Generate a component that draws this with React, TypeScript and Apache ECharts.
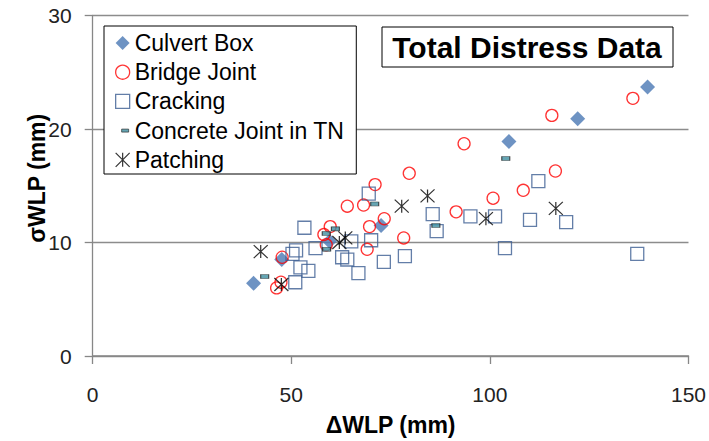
import React, { useEffect, useRef } from "react";
import * as echarts from "echarts";

const seriesNames = ["Culvert Box", "Bridge Joint", "Cracking", "Concrete Joint in TN", "Patching"];

const culvertBox: number[][] = [
  [40.5, 6.4], [47.6, 8.5], [59.6, 10.1], [72.6, 11.5], [104.8, 18.9], [122.1, 20.9], [139.7, 23.7],
];

const bridgeJoint: number[][] = [
  [47.7, 8.7], [46.3, 6.0], [47.4, 6.5], [64.1, 13.2], [68.2, 13.3], [59.8, 11.4], [58.2, 10.7],
  [58.8, 9.8], [69.7, 11.4], [73.4, 12.1], [78.3, 10.4], [69.1, 9.4], [71.1, 15.1], [79.7, 16.1],
  [93.5, 18.7], [115.6, 21.2], [136.0, 22.7], [116.5, 16.3], [108.4, 14.6], [100.8, 13.9], [91.5, 12.7],
];

const cracking: number[][] = [
  [53.3, 11.3], [50.3, 9.0], [51.2, 9.3], [52.3, 7.8], [54.3, 7.5], [51.0, 6.5], [56.1, 9.5],
  [62.8, 8.7], [64.1, 8.5], [65.1, 10.1], [70.1, 10.2], [66.9, 7.3], [73.3, 8.3], [78.6, 8.8],
  [69.5, 14.3], [85.6, 12.5], [86.6, 11.0], [95.1, 12.3], [101.3, 12.3], [110.1, 12.0], [112.2, 15.4],
  [119.2, 11.8], [103.8, 9.5], [137.1, 9.0],
];

const concreteJointTN: number[][] = [
  [43.3, 7.0], [58.8, 10.8], [61.1, 11.2], [58.9, 9.4], [71.0, 13.4], [86.4, 11.5], [104.0, 17.4],
];

const patching: number[][] = [
  [42.3, 9.2], [47.5, 6.3], [62.1, 10.0], [63.6, 10.4], [77.8, 13.2], [84.3, 14.1], [99.0, 12.1], [116.6, 13.0],
];

const xMin = 0, xMax = 150, xStep = 50;
const yMin = 0, yMax = 30, yStep = 10;

const titleText = "Total Distress Data";
const xName = "ΔWLP (mm)";
const yName = "σWLP (mm)";

const FONT = "'Liberation Sans', Arial, sans-serif";
const asterisk = "path://M0,0L14,13M14,0L0,13M7,0L7,13";
const asteriskIcon = "path://M0,0L14,14M14,0L0,14M7,0L7,14";
const dashIcon = "path://M0,0M14,14M6,5.5h7v3h-7z";

export default function App() {
  const ref = useRef<HTMLDivElement>(null);
  useEffect(() => {
    if (!ref.current) return;
    const chart = echarts.init(ref.current, undefined, { renderer: "svg" });
    const axisGray = "#878787";
    chart.setOption({
      animation: false,
      backgroundColor: "#fff",
      grid: { left: 92.7, right: 19.3, top: 15.5, bottom: 83.7, containLabel: false },
      xAxis: {
        type: "value",
        min: xMin,
        max: xMax,
        interval: xStep,
        name: xName,
        nameLocation: "middle",
        nameGap: 57,
        nameTextStyle: { fontFamily: FONT, fontSize: 23, fontWeight: "bold", color: "#000" },
        axisLine: { show: true, lineStyle: { color: axisGray, width: 1.6 } },
        axisTick: { show: true, inside: false, length: 8, lineStyle: { color: axisGray, width: 1.3 } },
        axisLabel: { fontFamily: FONT, fontSize: 21, color: "#222", margin: 28 },
        splitLine: { show: false },
      },
      yAxis: {
        type: "value",
        min: yMin,
        max: yMax,
        interval: yStep,
        axisLine: { show: true, lineStyle: { color: axisGray, width: 1.3 } },
        axisTick: { show: true, inside: false, length: 8, lineStyle: { color: axisGray, width: 1.3 } },
        axisLabel: { fontFamily: FONT, fontSize: 21, color: "#222", margin: 21 },
        splitLine: { show: true, lineStyle: { color: "#8c8c8c", width: 1.3 } },
      },
      legend: {
        orient: "vertical",
        left: 104,
        top: 26,
        padding: [5.5, 12, 2.7, 11],
        itemGap: 6.2,
        itemWidth: 14,
        itemHeight: 14,
        backgroundColor: "#fff",
        borderColor: "#000",
        borderWidth: 1,
        borderRadius: 0,
        selectedMode: false,
        textStyle: { fontFamily: FONT, fontSize: 23, lineHeight: 23, color: "#000" },
        data: [
          { name: seriesNames[0], icon: "diamond" },
          { name: seriesNames[1], icon: "circle", itemStyle: { borderWidth: 1.3 } },
          { name: seriesNames[2], icon: "rect", itemStyle: { borderWidth: 1.3 } },
          { name: seriesNames[3], icon: dashIcon, itemStyle: { borderWidth: 0.8 } },
          { name: seriesNames[4], icon: asteriskIcon, itemStyle: { borderWidth: 1.2 } },
        ],
      },
      graphic: [
        {
          type: "rect",
          shape: { x: 382, y: 27, width: 291, height: 40 },
          style: { fill: "#fff", stroke: "#000", lineWidth: 1 },
          z: 100,
        },
        {
          type: "text",
          x: 527,
          y: 47.5,
          z: 101,
          style: {
            text: titleText,
            font: `bold 30px ${FONT}`,
            fill: "#000",
            textAlign: "center",
            textVerticalAlign: "middle",
          },
        },
        {
          type: "text",
          x: 36.7,
          y: 178.3,
          rotation: Math.PI / 2,
          z: 101,
          style: {
            text: yName,
            font: `bold 23px ${FONT}`,
            fill: "#000",
            textAlign: "center",
            textVerticalAlign: "middle",
          },
        },
      ],
      series: [
        {
          name: seriesNames[0],
          type: "scatter",
          symbol: "diamond",
          symbolSize: 15,
          itemStyle: { color: "#4A78B4" },
          data: culvertBox,
        },
        {
          name: seriesNames[1],
          type: "scatter",
          symbol: "circle",
          symbolSize: 12,
          itemStyle: { color: "rgba(0,0,0,0)", borderColor: "#FF0000", borderWidth: 1.3 },
          data: bridgeJoint,
        },
        {
          name: seriesNames[2],
          type: "scatter",
          symbol: "rect",
          symbolSize: 13,
          itemStyle: { color: "rgba(0,0,0,0)", borderColor: "#3C5E92", borderWidth: 1.3 },
          data: cracking,
        },
        {
          name: seriesNames[3],
          type: "scatter",
          symbol: "rect",
          symbolSize: [8, 4],
          itemStyle: { color: "#3F8FA0", borderColor: "#222", borderWidth: 0.8 },
          data: concreteJointTN,
        },
        {
          name: seriesNames[4],
          type: "scatter",
          symbol: asterisk,
          symbolSize: [14, 13],
          itemStyle: { color: "rgba(0,0,0,0)", borderColor: "#000", borderWidth: 1.2 },
          data: patching,
        },
      ],
    });
    return () => chart.dispose();
  }, []);
  return (
    <div
      ref={ref}
      style={{ position: "fixed", left: 0, top: 0, width: 709, height: 441, background: "#fff" }}
    />
  );
}
